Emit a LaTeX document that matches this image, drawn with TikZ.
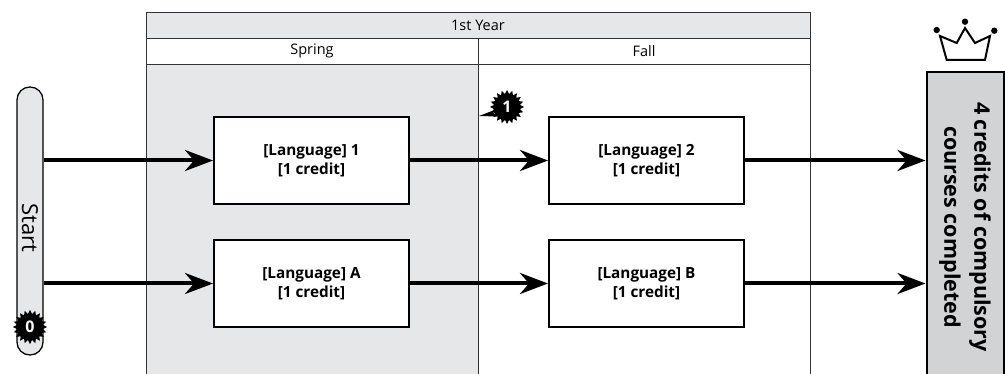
\documentclass[tikz,border=0pt]{standalone}
\usepackage{fontspec}
\setsansfont{Open Sans}
\renewcommand{\familydefault}{\sfdefault}
\usetikzlibrary{positioning, arrows.meta, shapes.geometric}
\definecolor{paleGrey}{HTML}{E6E7E8}
\definecolor{goalGrey}{HTML}{D1D3D4}

\begin{document}
\begin{tikzpicture}[
    x=1pt, y=-1pt,
    grid/.style = {draw=black!80, line width=0.9pt},
    header/.style = {font=\fontsize{14.5}{14.5}\selectfont},
    course/.style = {draw, line width=2pt, fill=white, minimum width=195pt, minimum height=87pt, align=center, font=\bfseries\fontsize{15.3}{19}\selectfont},
    flow/.style = {line width=4pt, -{Stealth[length=28pt, width=21pt, inset=9pt]}},
    burst/.style = {star, star points=20, star point ratio=1.3, fill=black, text=white, font=\bfseries\fontsize{16}{16}\selectfont, inner sep=0pt, minimum size=34pt},
    node distance=34pt and 138pt
]
    \useasboundingbox (0,0) rectangle (1005,374);

    % semester table
    \fill[paleGrey] (146,12) rectangle (810,38);
    \fill[paleGrey] (146,64) rectangle (478,374);
    \draw[grid] (146,374) -- (146,12) -- (810,12) -- (810,374);
    \draw[grid] (146,38) -- (810,38) (146,64) -- (810,64) (478,38) -- (478,374);
    \node (year) [header] at (478,25) {1st Year};
    \node (spring) [header] at (312,51) {Spring};
    \node (fall) [header] at (644,51) {Fall};

    % start and goal
    \node (start) [draw, line width=1.3pt, fill=paleGrey, rounded corners=12.9pt, rotate=-90, minimum width=268pt, minimum height=26pt, inner sep=0pt, font=\fontsize{22}{22}\selectfont] at (30,221) {\hspace*{14pt}Start};
    \node (goal) [draw, line width=2pt, fill=goalGrey, rotate=-90, minimum width=310pt, minimum height=77pt, align=center, font=\bfseries\fontsize{21.5}{30}\selectfont] at (965,227) {4 credits of compulsory\\courses completed};

    % courses
    \node (lang1) [course] at (311.5,160.5) {[Language] 1\\{[1 credit]}};
    \node (langA) [course, below=of lang1] {[Language] A\\{[1 credit]}};
    \node (lang2) [course, right=of lang1] {[Language] 2\\{[1 credit]}};
    \node (langB) [course, right=of langA] {[Language] B\\{[1 credit]}};

    \draw[flow] (start.north |- lang1) -- (lang1);
    \draw[flow] (start.north |- langA) -- (langA);
    \draw[flow] (lang1) -- (lang2);
    \draw[flow] (langA) -- (langB);
    \draw[flow] (lang2) -- (goal.south |- lang2);
    \draw[flow] (langB) -- (goal.south |- langB);

    % step markers
    \node (zero) [burst] at (30,327) {0};
    \node (one) [burst] at (507,107) {1};
    \coordinate (onetip) at (479,116);
    \fill (one.195) -- (onetip) -- (one.225) -- cycle;

    % crown
    \draw[line width=2pt] (940,36) -- (946.7,60) -- (985,60) -- (990,36) -- (975,43) -- (965,28) -- (956.7,43) -- cycle;
    \foreach \cx/\cy in {936.7/30, 965/21.7, 994.3/30.7}
        \fill (\cx,\cy) circle (3.2pt);
\end{tikzpicture}
\end{document}
